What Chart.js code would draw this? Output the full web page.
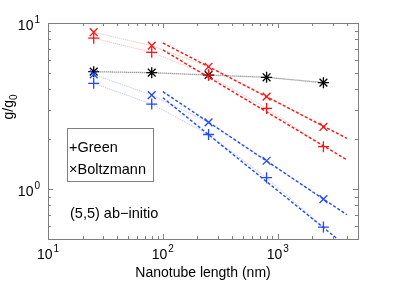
<!DOCTYPE html>
<html><head><meta charset="utf-8">
<script src="https://cdn.jsdelivr.net/npm/chart.js@4.4.0/dist/chart.umd.min.js"></script>
<style>html,body{margin:0;padding:0;background:#fff;}#wrap{width:398px;height:287px;position:relative;}</style>
</head><body><div id="wrap"><canvas id="c" width="398" height="287"></canvas></div>
<script>
// ---- data ----
const lengths = [25, 80, 250, 800, 2500];
const redBoltzmann = [8.8, 7.3, 5.45, 3.6, 2.37];
const redGreen = [8.1, 6.66, 4.85, 3.06, 1.8];
const blackAll = [5.09, 5.02, 4.86, 4.71, 4.37];
const blueBoltzmann = [4.9, 3.68, 2.52, 1.48, 0.87];
const blueGreen = [4.33, 3.25, 2.13, 1.17, 0.59];
const fitLengths = [100, 4000];
const redBoltzmannFit = [7.58, 2.02];
const redGreenFit = [6.88, 1.5];
const blueBoltzmannFit = [3.86, 0.70];
const blueGreenFit = [3.55, 0.45];
const xTickLabels = ['1', '2', '3']; // exponents of 10
const yTickLabels = ['0', '1'];
const legendLines = ['+Green', '\u00d7Boltzmann'];
const annotationText = '(5,5) ab\u2212initio';
const xTitle = 'Nanotube length (nm)';

const FONT = '"Liberation Sans", Arial, sans-serif';
const RED = '#ff1010', BLUE = '#2048ff';

function pts(xs, ys) { return xs.map((x, i) => ({x: x, y: ys[i]})); }

function lightLine(ys, color) {
  return {data: pts(lengths, ys), borderColor: color, borderWidth: 1, borderDash: [1, 1],
          pointRadius: 0, fill: false, tension: 0};
}
function fitLine(ys, color) {
  return {data: pts(fitLengths, ys), borderColor: color, borderWidth: 1.4, borderDash: [3, 2],
          pointRadius: 0, fill: false, tension: 0};
}
function markers(ys, color, style) {
  return {data: pts(lengths, ys), showLine: false, pointStyle: style, pointRadius: 5.5,
          borderColor: color, pointBorderWidth: 1.3, pointBackgroundColor: color};
}

const datasets = [
  lightLine(redBoltzmann, 'rgba(255,60,60,0.4)'),
  lightLine(redGreen, 'rgba(255,60,60,0.4)'),
  lightLine(blueBoltzmann, 'rgba(60,90,255,0.4)'),
  lightLine(blueGreen, 'rgba(60,90,255,0.4)'),
  {data: pts(lengths, blackAll), borderColor: 'rgba(50,50,50,0.7)', borderWidth: 1.3, borderDash: [1, 1],
   pointRadius: 0, fill: false},
  fitLine(redBoltzmannFit, RED),
  fitLine(redGreenFit, RED),
  fitLine(blueBoltzmannFit, BLUE),
  fitLine(blueGreenFit, BLUE),
  markers(redBoltzmann, RED, 'crossRot'),
  markers(redGreen, RED, 'cross'),
  markers(blueBoltzmann, BLUE, 'crossRot'),
  markers(blueGreen, BLUE, 'cross'),
  markers(blackAll, '#000', 'star')
];

function drawPow(ctx, exp, x, y, align) {
  ctx.font = '14px ' + FONT;
  const wb = ctx.measureText('10').width;
  ctx.font = '10px ' + FONT;
  const we = ctx.measureText(exp).width;
  const tot = wb + we + 1;
  let sx = align === 'center' ? x - tot / 2 : x - tot;
  ctx.textAlign = 'left'; ctx.textBaseline = 'alphabetic';
  ctx.font = '14px ' + FONT;
  ctx.fillText('10', sx, y);
  ctx.font = '10px ' + FONT;
  ctx.fillText(exp, sx + wb + 1, y - 7);
}

const frame = {
  id: 'frame',
  afterDraw(chart) {
    const ctx = chart.ctx, a = chart.chartArea;
    const xs = chart.scales.x, ys = chart.scales.y;
    ctx.save();
    ctx.strokeStyle = '#7f7f7f'; ctx.lineWidth = 1;
    ctx.strokeRect(Math.round(a.left) + 0.5, Math.round(a.top) + 0.5,
                   Math.round(a.right - a.left), Math.round(a.bottom - a.top));
    // ticks
    ctx.beginPath();
    for (let e = 1; e <= 3; e++) {
      for (let m = 1; m <= 9; m++) {
        const v = m * Math.pow(10, e);
        if (v > 5000) continue;
        const px = Math.round(xs.getPixelForValue(v)) + 0.5;
        const len = m === 1 ? 5 : 3;
        ctx.moveTo(px, a.bottom); ctx.lineTo(px, a.bottom - len);
        ctx.moveTo(px, a.top); ctx.lineTo(px, a.top + len);
      }
    }
    for (let e = -1; e <= 1; e++) {
      for (let m = 1; m <= 9; m++) {
        const v = m * Math.pow(10, e);
        if (v < 0.5 || v > 10) continue;
        const py = Math.round(ys.getPixelForValue(v)) + 0.5;
        const len = (m === 1) ? 5 : 3;
        ctx.moveTo(a.left, py); ctx.lineTo(a.left + len, py);
        ctx.moveTo(a.right, py); ctx.lineTo(a.right - len, py);
      }
    }
    ctx.stroke();
    // tick labels
    ctx.fillStyle = '#000';
    xTickLabels.forEach(ex => {
      drawPow(ctx, ex, xs.getPixelForValue(Math.pow(10, +ex)), a.bottom + 20, 'center');
    });
    yTickLabels.forEach(ex => {
      drawPow(ctx, ex, a.left - 8, ys.getPixelForValue(Math.pow(10, +ex)) + 7, 'right');
    });
    // x title
    ctx.font = '14px ' + FONT;
    ctx.textAlign = 'center'; ctx.textBaseline = 'alphabetic';
    ctx.fillText(xTitle, (a.left + a.right) / 2, 277);
    // y title g/g0
    ctx.save();
    ctx.translate(13, 107);
    ctx.rotate(-Math.PI / 2);
    ctx.font = '14px ' + FONT;
    const w1 = ctx.measureText('g/g').width;
    ctx.font = '10px ' + FONT;
    const w2 = ctx.measureText('0').width;
    const st = -(w1 + w2) / 2;
    ctx.textAlign = 'left';
    ctx.font = '14px ' + FONT;
    ctx.fillText('g/g', st, 0);
    ctx.font = '10px ' + FONT;
    ctx.fillText('0', st + w1, 4);
    ctx.restore();
    // legend box
    ctx.fillStyle = '#fff';
    ctx.fillRect(67.5, 128.5, 86, 53);
    ctx.strokeStyle = '#7f7f7f';
    ctx.strokeRect(67.5, 128.5, 86, 53);
    ctx.fillStyle = '#000';
    ctx.font = '14.5px ' + FONT;
    ctx.textAlign = 'left'; ctx.textBaseline = 'middle';
    ctx.fillText(legendLines[0], 69, 148);
    ctx.fillText(legendLines[1], 69, 170);
    ctx.fillText(annotationText, 70, 214);
    ctx.restore();
  }
};

new Chart(document.getElementById('c'), {
  type: 'line',
  data: {datasets: datasets},
  options: {
    responsive: false, animation: false, events: [],
    layout: {padding: {left: 48, right: 40, top: 23, bottom: 48}},
    plugins: {legend: {display: false}, tooltip: {enabled: false}},
    scales: {
      x: {type: 'logarithmic', min: 10, max: 5000, display: false},
      y: {type: 'logarithmic', min: 0.5, max: 10, display: false}
    }
  },
  plugins: [frame]
});
</script></body></html>
